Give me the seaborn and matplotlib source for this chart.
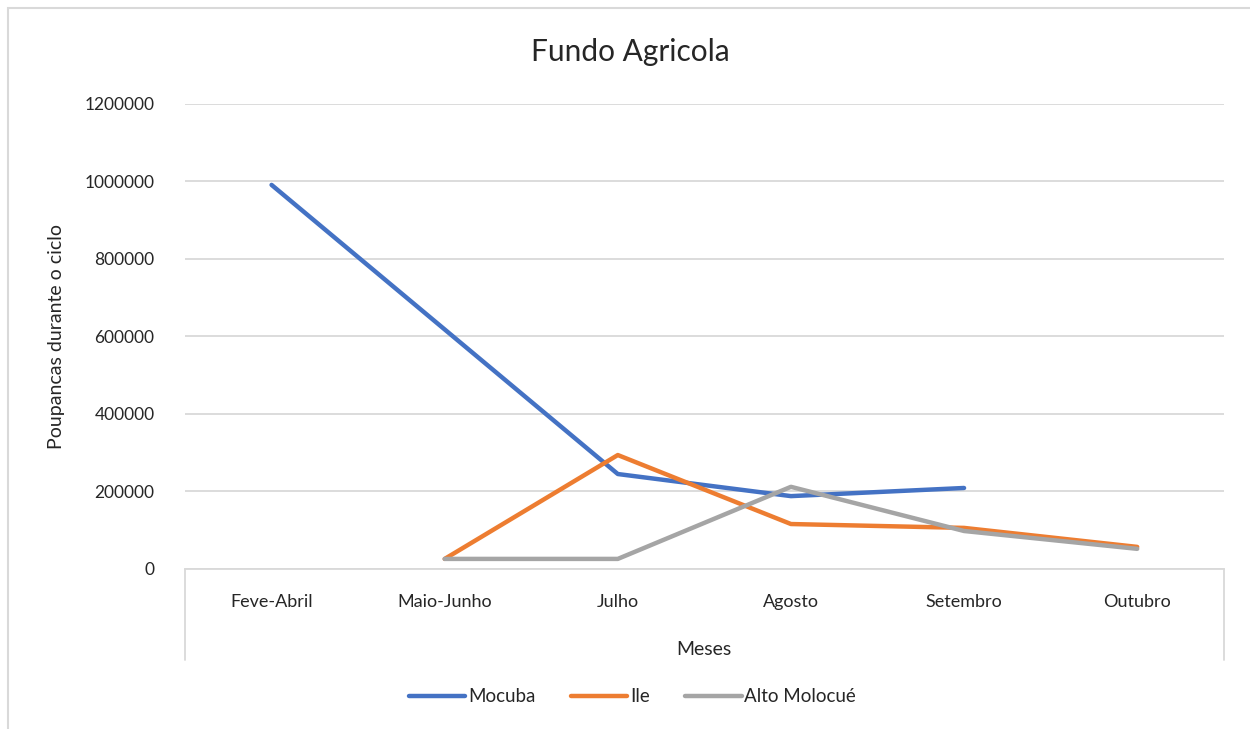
import numpy as np
import pandas as pd
import seaborn as sb
import matplotlib.pyplot as plt
from matplotlib.lines import Line2D
from matplotlib.patches import Rectangle

meses = ["Feve-Abril", "Maio-Junho", "Julho", "Agosto", "Setembro", "Outubro"]
mocuba = [991000, 618000, 245000, 188000, 209000, np.nan]
ile = [np.nan, 26000, 294000, 116000, 106000, 57000]
alto_molocue = [np.nan, 26000, 26000, 212000, 98000, 52000]
series_names = ["Mocuba", "Ile", "Alto Molocué"]
cores = ["#4472C4", "#ED7D31", "#A5A5A5"]

rows = []
for nome, vals in zip(series_names, [mocuba, ile, alto_molocue]):
    for m, v in zip(meses, vals):
        rows.append({"mes": m, "valor": v, "serie": nome})
mydata = pd.DataFrame(rows)

sb.set_style("white")
plt.rcParams["font.family"] = ["Lato", "DejaVu Sans"]

fig = plt.figure(figsize=(12.5, 7.29), dpi=100)
ax = fig.add_axes([0.148, 0.2195, 0.831, 0.638])

sb.lineplot(data=mydata, x="mes", y="valor", hue="serie", palette=cores,
            hue_order=series_names, sort=False, linewidth=3.2, ax=ax,
            legend=False)
for ln in ax.lines:
    ln.set_solid_capstyle("round")
    ln.set_solid_joinstyle("round")

ax.set_xlim(-0.5, 5.5)
ax.set_ylim(0, 1200000)
ax.set_yticks(np.arange(0, 1200001, 200000))
ax.set_yticklabels([str(v) for v in range(0, 1200001, 200000)], fontsize=12.5)
ax.set_xticks(range(len(meses)))
ax.set_xticklabels(meses, fontsize=13)
ax.tick_params(axis="x", pad=18, length=0)
ax.tick_params(axis="y", pad=22, length=0)
ax.yaxis.grid(True, color="#D9D9D9", linewidth=1.3)
ax.set_axisbelow(True)
for s in ["top", "right", "left"]:
    ax.spines[s].set_visible(False)
ax.spines["bottom"].set_color("#D9D9D9")
ax.spines["bottom"].set_linewidth(1.3)

ax.set_xlabel("Meses", fontsize=14, labelpad=22)
ax.set_ylabel("Poupancas durante o ciclo", fontsize=14, labelpad=14)
fig.text(0.504, 0.929, "Fundo Agricola", fontsize=21.5, ha="center", va="center")

# caixa do eixo das categorias
for xf in [0.148, 0.979]:
    fig.add_artist(Line2D([xf, xf], [0.2195, 0.094], color="#D9D9D9", lw=1.3))

# moldura exterior
fig.add_artist(Rectangle((0.0065, -0.01), 1.2, 0.9995, fill=False,
                         edgecolor="#D9D9D9", lw=1.5))

handles = [Line2D([0], [0], color=c, lw=3.2, solid_capstyle="round") for c in cores]
fig.legend(handles, series_names, loc="center", bbox_to_anchor=(0.506, 0.044),
           ncol=3, frameon=False, fontsize=13.5, handlelength=3.0,
           handletextpad=0.15, columnspacing=1.9)

plt.savefig("out.png", dpi=100)
